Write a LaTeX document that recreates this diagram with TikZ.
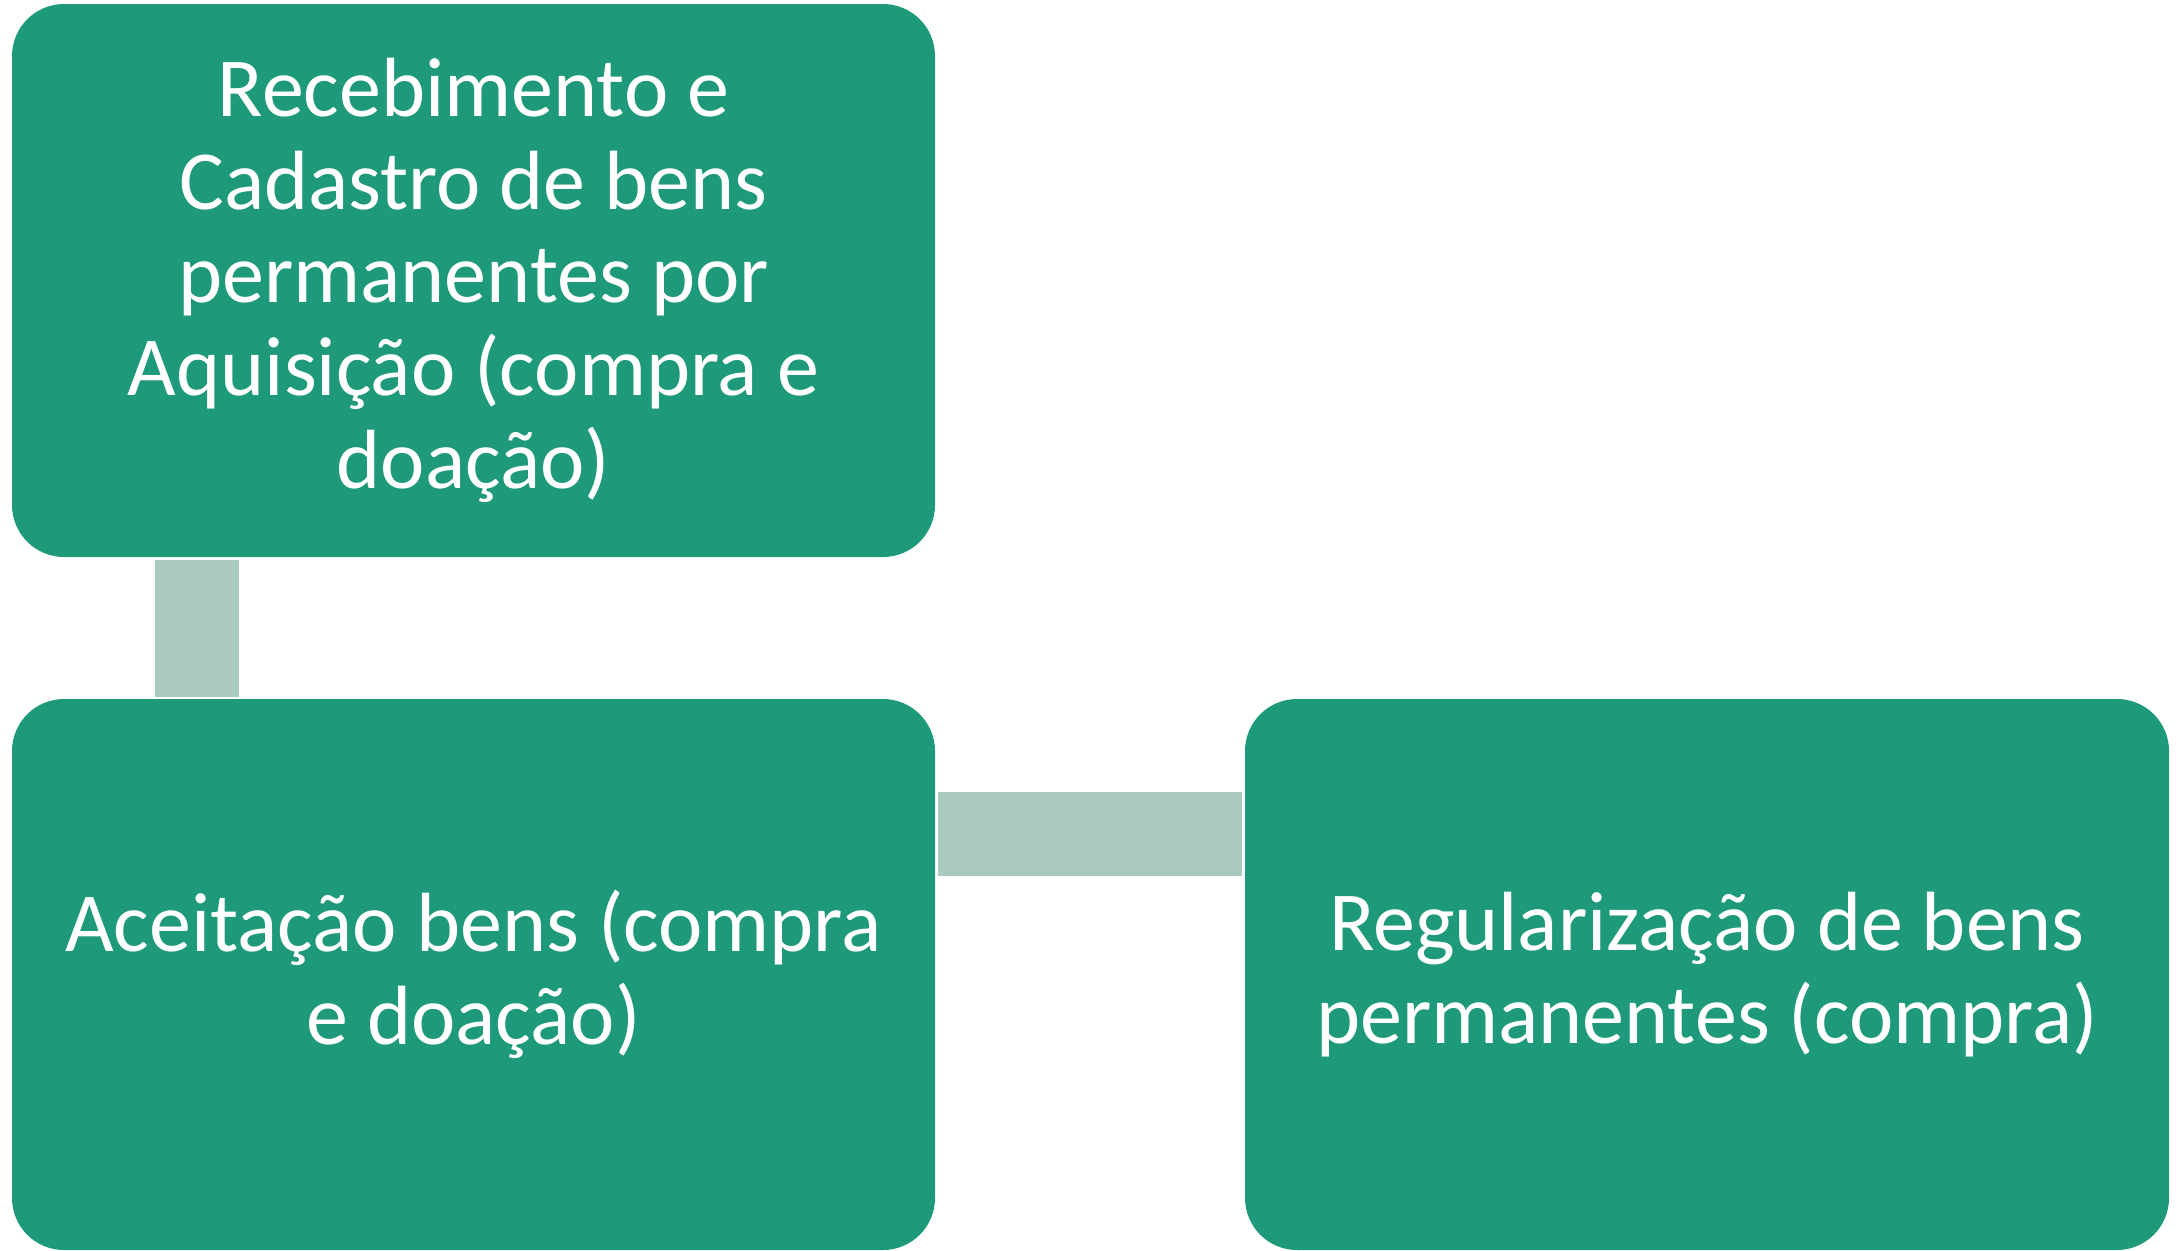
\documentclass[tikz,border=0pt]{standalone}
\usepackage{fontspec}
\setmainfont{Carlito}
\usetikzlibrary{calc}
\definecolor{boxgreen}{RGB}{30,154,122}
\definecolor{conngreen}{RGB}{170,202,190}
\tikzset{
  procbox/.style={rectangle, rounded corners=52pt, fill=boxgreen, draw=none,
    inner sep=0pt, outer sep=0pt, text=white, align=center,
    font=\fontsize{84}{93}\selectfont},
  conn/.style={draw=conngreen, line width=84pt}
}
\begin{document}
\begin{tikzpicture}[x=1pt,y=-1pt]
\useasboundingbox (0,0) rectangle (2183,1250);
\node[procbox, minimum width=923pt, minimum height=553pt] (b1) at (473.5,280.5)
  {Recebimento e\\Cadastro de bens\\permanentes por\\Aquisição (compra e\\doação)};
\node[procbox, minimum width=923pt, minimum height=551pt] (b2) at (473.5,974.5)
  {Aceitação bens (compra\\e doação)};
\node[procbox, minimum width=924pt, minimum height=551pt] (b3) at (1707,974.5)
  {Regularização de bens\\permanentes (compra)};
\draw[conn] ($(b1.south west)+(185,3)$) -- ($(b2.north west)+(185,-2)$);
\draw[conn] ($(b2.north east)+(3,135)$) -- ($(b3.north west)+(-3,135)$);
\end{tikzpicture}
\end{document}
